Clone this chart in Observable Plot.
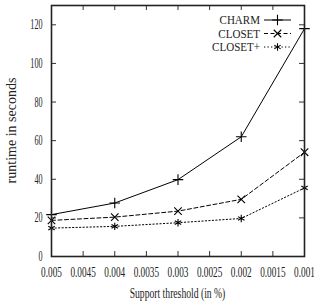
<!DOCTYPE html>
<html><head><meta charset="utf-8">
<script src="https://cdn.jsdelivr.net/npm/d3@7"></script>
<script src="https://cdn.jsdelivr.net/npm/@observablehq/plot@0.6"></script>
<style>body{margin:0;background:#fff} svg{display:block}</style>
</head><body><div id="chart"></div>
<script>
const thresholds = [0.005, 0.004, 0.003, 0.002, 0.001];
const charm = [21.7, 27.7, 39.8, 62, 118];
const closet = [18.7, 20.4, 23.5, 29.6, 54];
const closetPlus = [14.7, 15.6, 17.5, 19.7, 35.5];
const seriesNames = ["CHARM", "CLOSET", "CLOSET+"];
const xTicks = [0.005, 0.0045, 0.004, 0.0035, 0.003, 0.0025, 0.002, 0.0015, 0.001];
const yTicks = [0, 20, 40, 60, 80, 100, 120];
const xLabel = "Support threshold (in %)";
const yLabel = "runtime in seconds";

const W = 314, H = 303, mL = 51, mR = 10, mT = 5, mB = 47;
const pw = W - mL - mR, ph = H - mT - mB;

const styles = {
  "CHARM":   {symbol: "plus",     dash: null,      d3sym: d3.symbolPlus},
  "CLOSET":  {symbol: "times",    dash: "4,2.5",   d3sym: d3.symbolTimes},
  "CLOSET+": {symbol: "asterisk", dash: "1.3,2.2", d3sym: d3.symbolAsterisk}
};
const values = [charm, closet, closetPlus];
const rows = seriesNames.map((s, i) => thresholds.map((x, j) => ({x, y: values[i][j], s})));
const R = 3.5;

const marks = [];
rows.forEach(r => {
  const st = styles[r[0].s];
  marks.push(Plot.line(r, {x: "x", y: "y", stroke: "black", strokeWidth: 1, strokeDasharray: st.dash}));
  marks.push(Plot.dot(r, {x: "x", y: "y", symbol: st.symbol, r: R, stroke: "black", strokeWidth: 1.1}));
});
marks.push(
  Plot.tickY(yTicks, {y: d => d, insetRight: pw - 5, stroke: "#333", strokeWidth: 1}),
  Plot.tickY(yTicks, {y: d => d, insetLeft: pw - 5, stroke: "#333", strokeWidth: 1}),
  Plot.tickX(xTicks, {x: d => d, insetTop: ph - 5, stroke: "#333", strokeWidth: 1}),
  Plot.tickX(xTicks, {x: d => d, insetBottom: ph - 5, stroke: "#333", strokeWidth: 1}),
  Plot.frame({stroke: "#222", strokeWidth: 1.6}),
  Plot.axisX({ticks: xTicks, tickSize: 0, tickPadding: 11, tickFormat: d => String(d), label: null}),
  Plot.axisY({ticks: yTicks, tickSize: 0, tickPadding: 9, tickFormat: d => String(d), label: null})
);

const chart = Plot.plot({
  width: W, height: H,
  marginLeft: mL, marginRight: mR, marginTop: mT, marginBottom: mB,
  x: {domain: [0.005, 0.001]},
  y: {domain: [0, 130]},
  style: {fontFamily: "'Liberation Serif', 'DejaVu Serif', serif", fontSize: "14px", color: "#222", background: "white"},
  marks
});
document.getElementById("chart").appendChild(chart);

const svg = d3.select(chart);
// condense text horizontally (the reference font is narrow)
function condense(sel, f) {
  sel.each(function() {
    const t = this.getAttribute("transform") || "";
    const x = +(this.getAttribute("x") || 0);
    this.setAttribute("transform", `${t} translate(${x},0) scale(${f},1) translate(${-x},0)`);
  });
}
svg.selectAll("g[aria-label='x-axis tick label'] text").call(condense, 0.66);
svg.selectAll("g[aria-label='y-axis tick label'] text").call(condense, 0.58);

// axis titles
const xt = svg.append("text").attr("x", mL + pw / 2).attr("y", 298).attr("text-anchor", "middle")
  .attr("fill", "#222").text(xLabel);
condense(xt, 0.69);
svg.append("text").attr("transform", `translate(16,${mT + ph / 2}) rotate(-90)`).attr("text-anchor", "middle")
  .attr("fill", "#222").style("font-size", "14px").text(yLabel);

// legend
const lg = svg.append("g").style("font-size", "12px");
seriesNames.forEach((s, i) => {
  const st = styles[s];
  const y = 20 + 13.5 * i;
  const t = lg.append("text").attr("x", 260).attr("y", y).attr("dy", "0.35em").attr("text-anchor", "end")
    .attr("fill", "#222").text(s);
  condense(t, 0.92);
  lg.append("line").attr("x1", 264).attr("x2", 291).attr("y1", y).attr("y2", y)
    .attr("stroke", "black").attr("stroke-width", 1).attr("stroke-dasharray", st.dash);
  lg.append("path").attr("transform", `translate(277.5,${y})`)
    .attr("d", d3.symbol(st.d3sym, Math.PI * R * R)()).attr("fill", "none").attr("stroke", "black").attr("stroke-width", 1.1);
});
</script>
</body></html>
